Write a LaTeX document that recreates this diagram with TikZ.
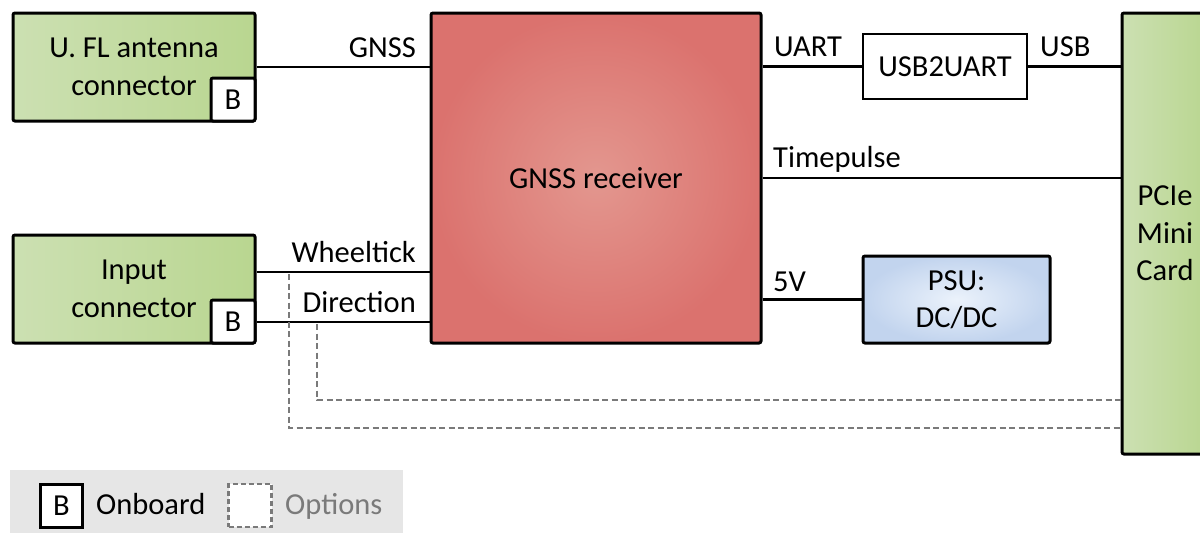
\documentclass[tikz,border=0pt]{standalone}
\usepackage{fontspec}
\setmainfont{Carlito}
\definecolor{greenL}{HTML}{CCE0B2}
\definecolor{greenR}{HTML}{B9D690}
\definecolor{redC}{HTML}{E3978F}
\definecolor{redE}{HTML}{DB726E}
\definecolor{blueC}{HTML}{EBF2FB}
\definecolor{blueE}{HTML}{C2D4EE}
\definecolor{optgray}{HTML}{7A7A7A}
\definecolor{legbg}{HTML}{E6E6E6}
\begin{document}
\begin{tikzpicture}[x=1pt,y=-1pt,
  txt/.style={font=\fontsize{30.5}{37.5}\selectfont},
  blk/.style={draw=black, line width=3pt, rounded corners=2pt, inner sep=0pt, txt, align=center},
  grn/.style={blk, left color=greenL, right color=greenR},
  bbox/.style={blk, fill=white, minimum width=44pt, minimum height=43pt},
  wire/.style={line width=2.6pt, draw=black},
  opt/.style={line width=2.4pt, draw=optgray, dash pattern=on 6pt off 3.5pt},
  lbl/.style={txt, inner sep=0pt}]
\useasboundingbox (0,0) rectangle (1200,533);

% blocks
\node[grn, minimum width=242pt, minimum height=108pt] (ufl) at (134,67) {U. FL antenna\\connector};
\node[bbox, anchor=south east] (ub) at (ufl.south east) {B};

\node[grn, minimum width=242pt, minimum height=108pt] (inp) at (134,289) {Input\\connector};
\node[bbox, anchor=south east] (ib) at (inp.south east) {B};

\node[blk, minimum width=330pt, minimum height=330pt, shading=radial, inner color=redC, outer color=redE] (rx) at (596,178) {GNSS receiver};

\node[draw=black, line width=2.6pt, inner sep=0pt, txt, minimum width=164pt, minimum height=65pt] (u2u) at (945,66.5) {USB2UART};

\node[blk, minimum width=187pt, minimum height=87pt, shading=radial, inner color=blueC, outer color=blueE] (psu) at (956.5,299.5) {PSU:\\DC/DC};

\node[grn, minimum width=86pt, minimum height=441pt] (pcie) at (1165,233.5) {PCIe\\Mini\\Card};

% wires
\draw[wire] (ufl.east) -- (rx.west |- ufl.east);
\draw[wire] (inp.east |- 0,272) coordinate (wtA) -- (rx.west |- wtA);
\draw[wire] (inp.east |- 0,322) coordinate (drA) -- (rx.west |- drA);
\draw[wire] (rx.east |- u2u.west) -- (u2u.west);
\draw[wire] (u2u.east) -- (pcie.west |- u2u.east);
\draw[wire] (rx.east) -- (pcie.west |- rx.east);
\draw[wire] (rx.east |- psu.west) -- (psu.west);

% options
\coordinate (wtO) at (289,274);
\coordinate (drO) at (317,324);
\draw[opt] (wtO) |- (pcie.west |- 0,428);
\draw[opt] (drO) |- (pcie.west |- 0,400);

% labels
\node[lbl, anchor=base east] (lgnss) at (416,57) {GNSS};
\node[lbl, anchor=base west] (luart) at (774,56) {UART};
\node[lbl, anchor=base west] (lusb) at (1040,56) {USB};
\node[lbl, anchor=base west] (ltp) at (773,167) {Timepulse};
\node[lbl, anchor=base east] (lwt) at (416,262) {Wheeltick};
\node[lbl, anchor=base east] (ldr) at (416,312) {Direction};
\node[lbl, anchor=base west] (l5v) at (773,291) {5V};

% legend
\node[fill=legbg, inner sep=0pt, minimum width=393pt, minimum height=63pt, anchor=north west] (leg) at (10,470) {};
\node[draw=black, line width=3pt, fill=white, inner sep=0pt, txt, minimum width=42pt, minimum height=43pt] (legb) at (61.5,505.5) {B};
\node[lbl, anchor=base west] (legon) at (96,514) {Onboard};
\node[draw=optgray, line width=2.4pt, dash pattern=on 5pt off 3pt, fill=white, inner sep=0pt, minimum width=43pt, minimum height=43pt] (lego) at (250,505.5) {};
\node[lbl, anchor=base west, text=optgray] (legopt) at (285,514) {Options};
\end{tikzpicture}
\end{document}
